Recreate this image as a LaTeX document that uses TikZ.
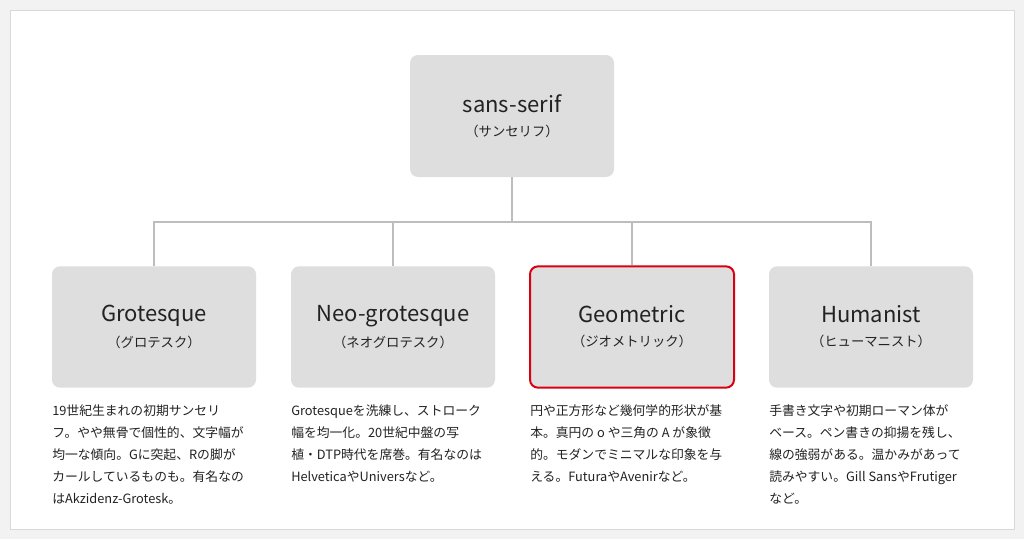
\documentclass[tikz,border=0pt]{standalone}
\usepackage{fontspec}
\setmainfont{Noto Sans CJK JP}
\usetikzlibrary{positioning}
\definecolor{boxgray}{HTML}{DEDEDE}
\definecolor{linegray}{HTML}{BDBDBD}
\definecolor{txt}{HTML}{222222}
\definecolor{hilite}{HTML}{D9000F}
\newcommand{\famname}[1]{{\fontsize{16.5}{20}\selectfont #1}}
\newcommand{\famkana}[1]{{\fontsize{10}{14}\selectfont #1}}
\begin{document}
\begin{tikzpicture}[x=0.75pt,y=-0.75pt,
    root/.style={rectangle, rounded corners=6pt, fill=boxgray, minimum width=153pt, minimum height=91.5pt, align=center, text=txt},
    family/.style={rectangle, rounded corners=6pt, fill=boxgray, minimum width=153pt, minimum height=91pt, align=center, text=txt},
    picked/.style={family, draw=hilite, line width=1.5pt},
    desc/.style={anchor=north west, align=left, font=\fontsize{9.6}{16.5}\selectfont, text=txt, inner sep=0pt},
    tree/.style={draw=linegray, line width=1.2pt}
]
\fill[black!5] (0,0) rectangle (1024,539);
\filldraw[fill=white, draw=black!15] (10,10) rectangle (1014,529);

% root
\node[root] (top) at (512,116) {\famname{sans-serif}\\[6pt]\famkana{（サンセリフ）}};

% families
\node[family] (grot) at (154,327) {\famname{Grotesque}\\[6pt]\famkana{（グロテスク）}};
\node[family] (neo) at (393,327) {\famname{Neo-grotesque}\\[6pt]\famkana{（ネオグロテスク）}};
\node[picked] (geo) at (632,327) {\famname{Geometric}\\[6pt]\famkana{（ジオメトリック）}};
\node[family] (hum) at (871,327) {\famname{Humanist}\\[6pt]\famkana{（ヒューマニスト）}};

% connectors
\coordinate (fork) at (512,222);
\draw[tree] (top.south) -- (fork);
\foreach \n in {grot,neo,geo,hum}
  \draw[tree] (fork) -| (\n.north);

% descriptions
\node[desc] (dgrot) at (52,404) {19世紀生まれの初期サンセリ\\フ。やや無骨で個性的、文字幅が\\均一な傾向。Gに突起、Rの脚が\\カールしているものも。有名なの\\はAkzidenz-Grotesk。};
\node[desc] (dneo) at (291,404) {Grotesqueを洗練し、ストローク\\幅を均一化。20世紀中盤の写\\植・DTP時代を席巻。有名なのは\\HelveticaやUniversなど。};
\node[desc] (dgeo) at (530,404) {円や正方形など幾何学的形状が基\\本。真円の o や三角の A が象徴\\的。モダンでミニマルな印象を与\\える。FuturaやAvenirなど。};
\node[desc] (dhum) at (769,404) {手書き文字や初期ローマン体が\\ベース。ペン書きの抑揚を残し、\\線の強弱がある。温かみがあって\\読みやすい。Gill SansやFrutiger\\など。};
\end{tikzpicture}
\end{document}
